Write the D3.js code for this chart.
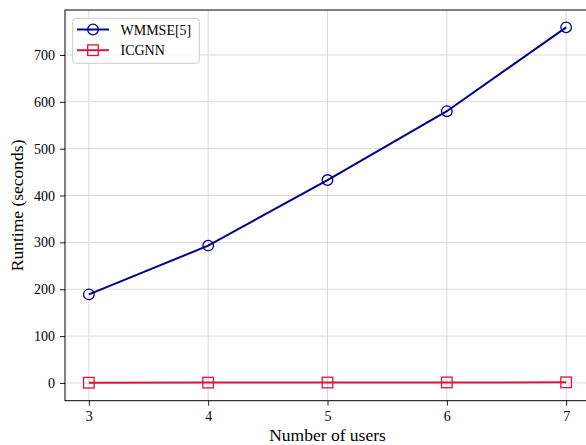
<!DOCTYPE html>
<html><head><meta charset="utf-8">
<script src="https://cdn.jsdelivr.net/npm/d3@7"></script>
<style>body{margin:0;background:#fff}svg{display:block}text{font-family:"Liberation Serif","Times New Roman",serif}</style>
</head><body><svg id="c" width="586" height="445"></svg>
<script>
const users = [3, 4, 5, 6, 7];
const wmmse = [189, 293, 433, 580, 759];
const icgnn = [0.5, 0.7, 0.9, 1.1, 1.3];
const yTicks = [0, 100, 200, 300, 400, 500, 600, 700];
const seriesNames = ["WMMSE[5]", "ICGNN"];

const svg = d3.select("#c");
const FONT = '"Liberation Serif","Times New Roman",serif';
const L = 65, R = 590, T = 10, B = 400.7;
const x = d3.scaleLinear().domain([2.8, 7.2]).range([L, R]);
const y = d3.scaleLinear().domain([-37.9, 796]).range([B, T]);

// grid
svg.append("g").selectAll("line").data(users).join("line")
  .attr("x1", d => x(d)).attr("x2", d => x(d)).attr("y1", T).attr("y2", B)
  .attr("stroke", "#d9d9d9").attr("stroke-width", 1);
svg.append("g").selectAll("line").data(yTicks).join("line")
  .attr("x1", L).attr("x2", R).attr("y1", d => y(d)).attr("y2", d => y(d))
  .attr("stroke", "#d9d9d9").attr("stroke-width", 1);

// axes
const xa = svg.append("g").attr("transform", `translate(0,${B})`)
  .call(d3.axisBottom(x).tickValues(users).tickFormat(d3.format("d")).tickSizeOuter(0).tickSize(5).tickPadding(5));
const ya = svg.append("g").attr("transform", `translate(${L},0)`)
  .call(d3.axisLeft(y).tickValues(yTicks).tickFormat(d3.format("d")).tickSizeOuter(0).tickSize(5).tickPadding(5));
[xa, ya].forEach(a => {
  a.attr("font-family", FONT).attr("font-size", 14);
  a.select(".domain").remove();
  a.selectAll("text").attr("font-size", 14).attr("fill", "#000").attr("font-family", FONT);
  a.selectAll("line").attr("stroke", "#000").attr("stroke-width", 0.9);
});

// frame
svg.append("rect").attr("x", L).attr("y", T).attr("width", R - L).attr("height", B - T)
  .attr("fill", "none").attr("stroke", "#000").attr("stroke-width", 1);

const line = d3.line().x((d, i) => x(users[i])).y(d => y(d));
const colors = ["#00008B", "#DC143C"];
[wmmse, icgnn].forEach((s, k) => {
  svg.append("path").datum(s).attr("d", line).attr("fill", "none")
    .attr("stroke", colors[k]).attr("stroke-width", 2);
  const g = svg.append("g");
  if (k === 0) {
    g.selectAll("circle").data(s).join("circle")
      .attr("cx", (d, i) => x(users[i])).attr("cy", d => y(d)).attr("r", 5.3)
      .attr("fill", "none").attr("stroke", colors[k]).attr("stroke-width", 1.3);
  } else {
    g.selectAll("rect").data(s).join("rect")
      .attr("x", (d, i) => x(users[i]) - 5.3).attr("y", d => y(d) - 5.3)
      .attr("width", 10.6).attr("height", 10.6)
      .attr("fill", "none").attr("stroke", colors[k]).attr("stroke-width", 1.3);
  }
});

// legend
const lg = svg.append("g");
lg.append("rect").attr("x", 72.7).attr("y", 18.3).attr("width", 126.6).attr("height", 45)
  .attr("rx", 3).attr("fill", "#fff").attr("fill-opacity", 0.8).attr("stroke", "#cccccc").attr("stroke-width", 1);
seriesNames.forEach((n, k) => {
  const cy = 29.5 + k * 20.7;
  lg.append("line").attr("x1", 77).attr("x2", 109).attr("y1", cy).attr("y2", cy)
    .attr("stroke", colors[k]).attr("stroke-width", 2);
  if (k === 0) lg.append("circle").attr("cx", 93).attr("cy", cy).attr("r", 5.3)
    .attr("fill", "none").attr("stroke", colors[k]).attr("stroke-width", 1.3);
  else lg.append("rect").attr("x", 93 - 5.3).attr("y", cy - 5.3).attr("width", 10.6).attr("height", 10.6)
    .attr("fill", "none").attr("stroke", colors[k]).attr("stroke-width", 1.3);
  lg.append("text").attr("x", 120.5).attr("y", cy + 5).attr("font-size", 14).attr("font-family", FONT).attr("fill", "#000").text(n);
});

// axis labels
svg.append("text").attr("x", (L + R) / 2).attr("y", 441).attr("text-anchor", "middle")
  .attr("font-size", 17.5).attr("font-family", FONT).text("Number of users");
svg.append("text").attr("transform", `translate(23,${(T + B) / 2}) rotate(-90)`).attr("text-anchor", "middle")
  .attr("font-size", 17.5).attr("font-family", FONT).text("Runtime (seconds)");
</script></body></html>
